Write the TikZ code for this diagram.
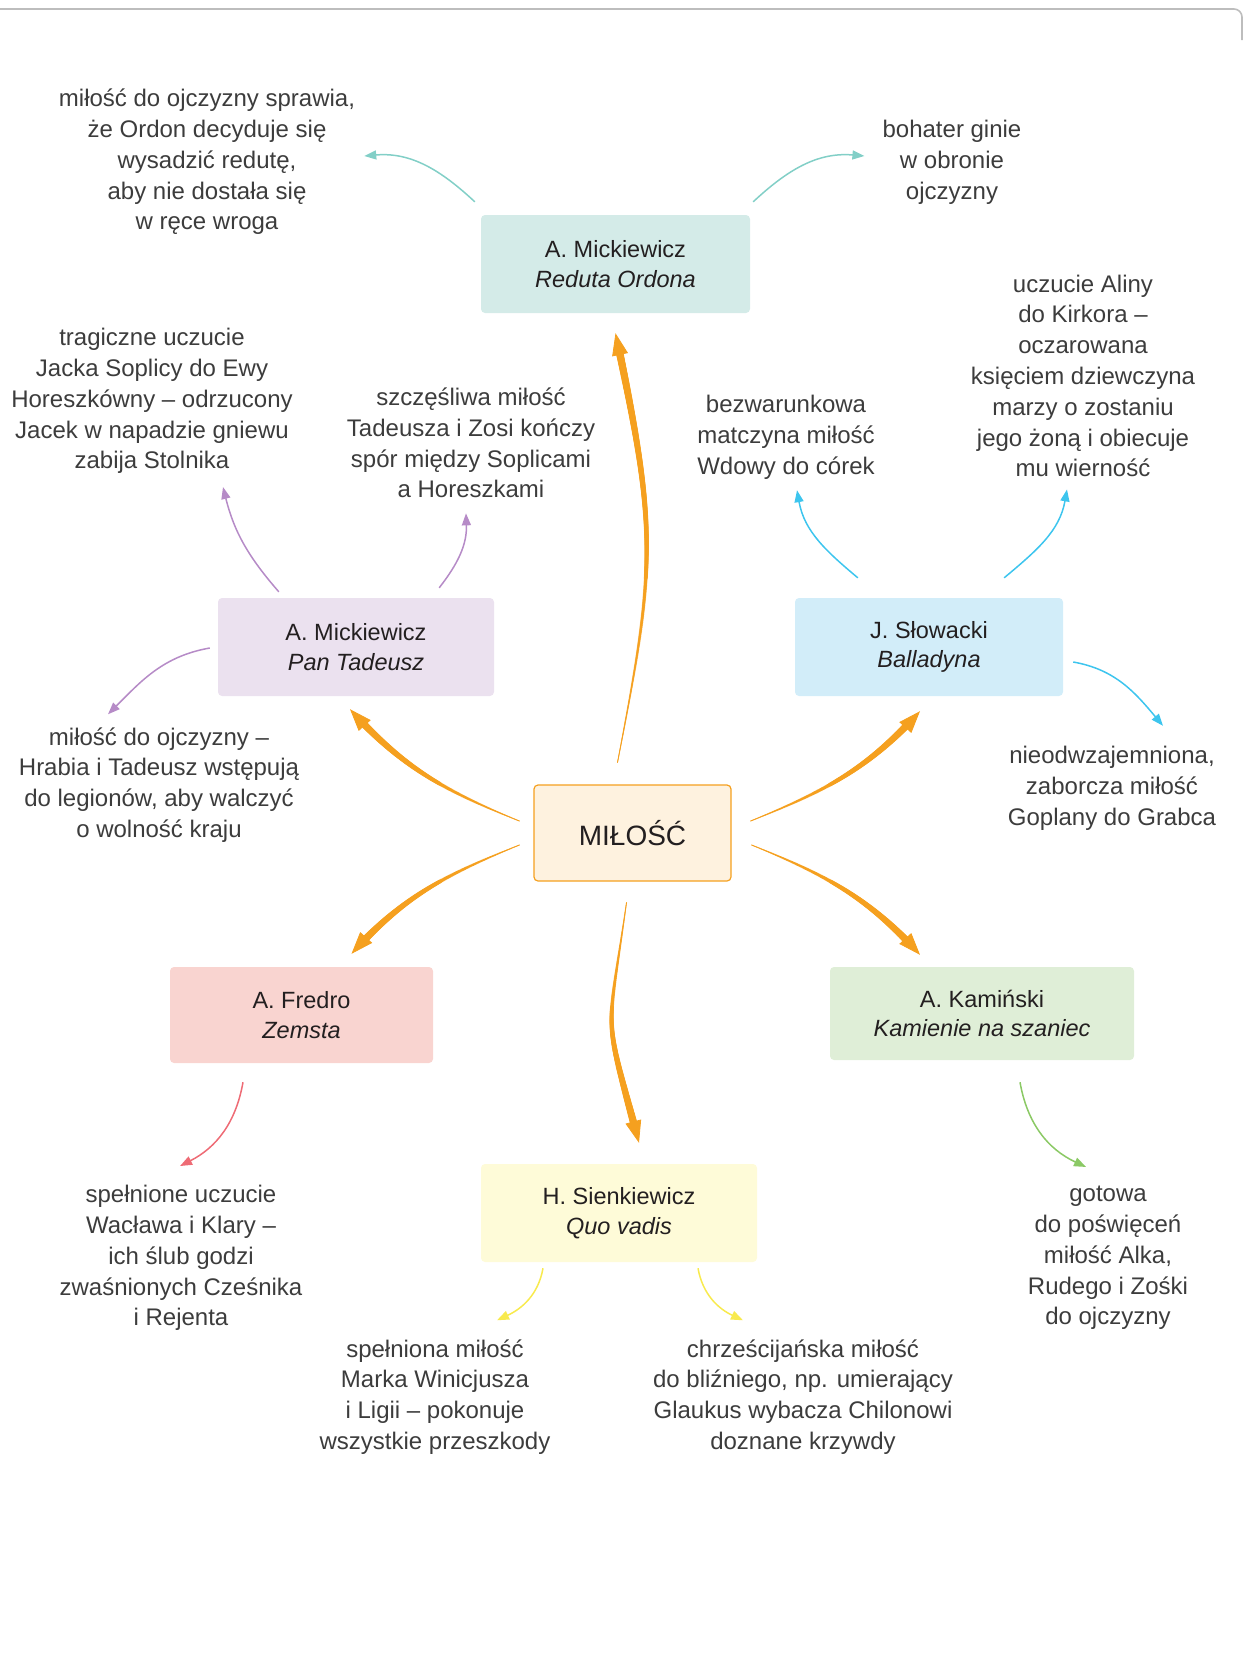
\documentclass[tikz,border=0pt]{standalone}
\usepackage{fontspec}
\setmainfont{Liberation Sans}
\usepackage{tikz}
\usetikzlibrary{arrows.meta,decorations.markings}

\definecolor{OrangeLine}{HTML}{F5A01F}
\definecolor{CentreFill}{HTML}{FEF2DF}
\definecolor{TealLine}{HTML}{82CFC7}
\definecolor{PurpleLine}{HTML}{B68BC7}
\definecolor{BlueLine}{HTML}{3DC5EE}
\definecolor{RedLine}{HTML}{EE6B75}
\definecolor{GreenLine}{HTML}{8BC965}
\definecolor{YellowLine}{HTML}{F8EA4E}
\definecolor{RedutaFill}{HTML}{D4EBE8}
\definecolor{PanFill}{HTML}{EBE1EF}
\definecolor{BallFill}{HTML}{D2EDF9}
\definecolor{ZemstaFill}{HTML}{F9D4D0}
\definecolor{KamFill}{HTML}{DFEED7}
\definecolor{QuoFill}{HTML}{FEFBD8}
\definecolor{BoxInk}{HTML}{231F20}
\definecolor{NoteInk}{HTML}{3C3C3C}
\definecolor{FrameGray}{HTML}{BDBDBD}

\begin{document}
\begin{tikzpicture}[
    x=1pt, y=1pt,
    >={Triangle[length=12pt,width=9pt]},
    every node/.style={align=center},
    box/.style={rounded corners=4pt, minimum height=98pt, text=BoxInk,
        font=\fontsize{23.5}{29.7}\selectfont},
    note/.style={text=NoteInk, inner sep=2pt, font=\fontsize{24}{30.8}\selectfont},
    link/.style={->, line width=1.5pt},
    taper/.style={->, draw=OrangeLine, line width=0.8pt,
        >={Triangle[length=22pt,width=16pt]},
        postaction={decorate, decoration={markings,
            mark=between positions 0 and -18pt step 1pt with {\fill[OrangeLine] (0,0)
            circle ({0.5pt+3.5pt*\pgfkeysvalueof{/pgf/decoration/mark info/distance from start}/\pgfdecoratedpathlength});}}}}]

    \useasboundingbox (0,0) rectangle (1243,-1666);
    \draw[FrameGray, line width=1.6pt, rounded corners=8pt] (0,-9) -| (1242,-40);

    \node[box, draw=OrangeLine, fill=CentreFill, line width=1.2pt, minimum width=197pt,
        minimum height=96pt, font=\fontsize{28}{30}\selectfont] (milosc) at (632.5,-833) {MIŁOŚĆ};

    \node[box, fill=RedutaFill, minimum width=269pt] (reduta) at (615.5,-264) {A. Mickiewicz\\\textit{Reduta Ordona}};
        \node[note] (ordonL) at (207,-162) {miłość do ojczyzny sprawia,\\że Ordon decyduje się\\wysadzić redutę,\\aby nie dostała się\\w ręce wroga};
        \node[note] (ordonR) at (952,-162) {bohater ginie\\w obronie\\ojczyzny};

    \node[box, fill=PanFill, minimum width=276pt] (pan) at (356,-647) {A. Mickiewicz\\\textit{Pan Tadeusz}};
        \node[note] (jacek) at (152,-401) {tragiczne uczucie\\Jacka Soplicy do Ewy\\Horeszkówny – odrzucony\\Jacek w napadzie gniewu\\zabija Stolnika};
        \node[note] (zosia) at (471,-443) {szczęśliwa miłość\\Tadeusza i Zosi kończy\\spór między Soplicami\\a Horeszkami};
        \node[note] (hrabia) at (159,-785) {miłość do ojczyzny –\\Hrabia i Tadeusz wstępują\\do legionów, aby walczyć\\o wolność kraju};

    \node[box, fill=BallFill, minimum width=268pt] (ballad) at (929,-647) {J. Słowacki\\\textit{Balladyna}};
        \node[note] (wdowa) at (786,-437) {bezwarunkowa\\matczyna miłość\\Wdowy do córek};
        \node[note] (alina) at (1083,-376) {uczucie Aliny\\do Kirkora –\\oczarowana\\księciem dziewczyna\\marzy o zostaniu\\jego żoną i obiecuje\\mu wierność};
        \node[note] (goplana) at (1112,-788) {nieodwzajemniona,\\zaborcza miłość\\Goplany do Grabca};

    \node[box, fill=ZemstaFill, minimum width=263pt, minimum height=96pt] (zemsta) at (301.5,-1015) {A. Fredro\\\textit{Zemsta}};
        \node[note] (klara) at (181,-1258) {spełnione uczucie\\Wacława i Klary –\\ich ślub godzi\\zwaśnionych Cześnika\\i Rejenta};

    \node[box, fill=KamFill, minimum width=304pt, minimum height=93pt] (kamienie) at (982,-1013.5) {A. Kamiński\\\textit{Kamienie na szaniec}};
        \node[note] (alek) at (1108,-1258) {gotowa\\do poświęceń\\miłość Alka,\\Rudego i Zośki\\do ojczyzny};

    \node[box, fill=QuoFill, minimum width=276pt] (quo) at (619,-1213) {H. Sienkiewicz\\\textit{Quo vadis}};
        \node[note] (ligia) at (435,-1397) {spełniona miłość\\Marka Winicjusza\\i Ligii – pokonuje\\wszystkie przeszkody};
        \node[note] (glaukus) at (803,-1397) {chrześcijańska miłość\\do bliźniego, np. umierający\\Glaukus wybacza Chilonowi\\doznane krzywdy};

    \draw[taper] ([shift={(-15,22)}]milosc.north) to[out=79,in=-78,looseness=1.2] ([yshift=-20]reduta.south);
    \draw[taper] ([shift={(-14,12)}]milosc.west) to[out=158,in=-48] ([shift={(-6,-13)}]pan.south);
    \draw[taper] ([shift={(19,12)}]milosc.east) to[out=22,in=228] ([shift={(-9,-15)}]ballad.south);
    \draw[taper] ([shift={(-14,-12)}]milosc.west) to[out=202,in=48] ([shift={(50,13)}]zemsta.north);
    \draw[taper] ([shift={(20,-12)}]milosc.east) to[out=-22,in=132] ([shift={(-62,12)}]kamienie.north);
    \draw[taper] ([shift={(-6,-21)}]milosc.south) to[out=-98,in=105,looseness=1.5] ([shift={(20,21)}]quo.north);

    \draw[link, TealLine] ([shift={(-6,13)}]reduta.north west) to[out=137,in=5] ([shift={(7,6)}]ordonL.east);
    \draw[link, TealLine] ([shift={(3,13)}]reduta.north east) to[out=43,in=175] ([shift={(-16,6)}]ordonR.west);

    \draw[link, PurpleLine] ([shift={(61,6)}]pan.north west) to[out=131,in=-76] ([shift={(71,-11)}]jacek.south);
    \draw[link, PurpleLine] ([shift={(-55,10)}]pan.north east) to[out=52,in=-88] ([shift={(-5,-13)}]zosia.south);
    \draw[link, PurpleLine] ([shift={(-8,-1)}]pan.west) to[out=190,in=45] ([shift={(-51,11)}]hrabia.north);

    \draw[link, BlueLine] ([shift={(63,20)}]ballad.north west) to[out=140,in=-80] ([shift={(11,-9)}]wdowa.south);
    \draw[link, BlueLine] ([shift={(-59,20)}]ballad.north east) to[out=40,in=-100] ([shift={(-16,-10)}]alina.south);
    \draw[link, BlueLine] ([shift={(10,-15)}]ballad.east) to[out=-10,in=130] ([shift={(51,18)}]goplana.north);

    \draw[link, RedLine] ([shift={(-58.5,-19)}]zemsta.south) to[out=-100,in=27] ([shift={(-1,17)}]klara.north);
    \draw[link, GreenLine] ([shift={(38,-22)}]kamienie.south) to[out=-80,in=155] ([shift={(-22,17)}]alek.north);

    \draw[link, YellowLine] ([shift={(-76,-6)}]quo.south) to[out=-100,in=25] ([shift={(62,17)}]ligia.north);
    \draw[link, YellowLine] ([shift={(79,-6)}]quo.south) to[out=-80,in=155] ([shift={(-60,17)}]glaukus.north);

\end{tikzpicture}
\end{document}
